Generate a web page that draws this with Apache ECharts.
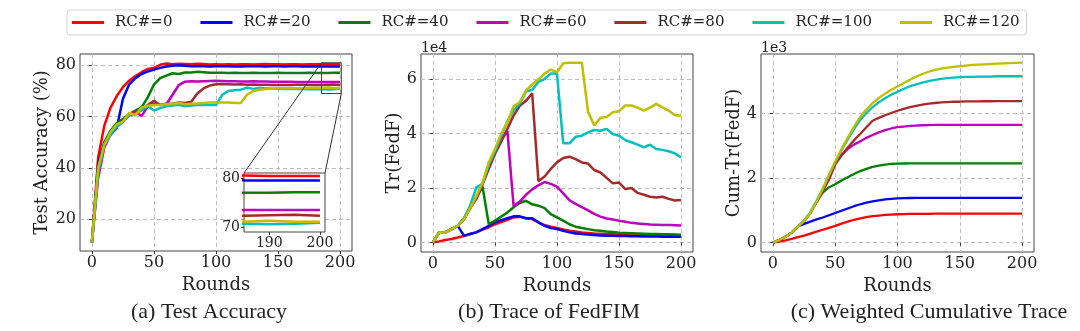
<!DOCTYPE html>
<html>
<head>
<meta charset="utf-8">
<script src="https://cdn.jsdelivr.net/npm/echarts@6/dist/echarts.min.js"></script>
<style>
  html, body { margin: 0; padding: 0; background: #fff; }
  #chart { width: 1080px; height: 331px; }
</style>
</head>
<body>
<div id="chart"></div>
<script>
// Communication rounds (sampled every 5 rounds)
const rounds = [0, 5, 10, 15, 20, 25, 30, 35, 40, 45, 50, 55, 60, 65, 70, 75, 80, 85, 90, 95, 100,
  105, 110, 115, 120, 125, 130, 135, 140, 145, 150, 155, 160, 165, 170, 175, 180, 185, 190, 195, 200];

const seriesNames = ['RC#=0', 'RC#=20', 'RC#=40', 'RC#=60', 'RC#=80', 'RC#=100', 'RC#=120'];
const seriesColors = ['#ff0000', '#0000ff', '#008000', '#bf00bf', '#a52a2a', '#00bfbf', '#bfbf00'];

// (a) Test accuracy, %
const accRC0 = [11, 44, 56.5, 63.5, 68, 71.5, 74, 75.8, 77.3, 78.6, 79, 80.2, 80.7, 80.4, 80.6, 80.5, 80.4, 80.6, 80.5, 80.3,
  80.4, 80.3, 80.4, 80.3, 80.4, 80.4, 80.3, 80.4, 80.5, 80.4, 80.4, 80.3, 80.4, 80.4, 80.3, 80.4, 80.4, 80.5, 80.4, 80.4, 80.4];
const accRC20 = [11, 41.5, 50, 53, 55.5, 67, 72.5, 75, 76.6, 77.6, 78.3, 79, 79.5, 79.8, 80, 79.8, 79.6, 79.7, 79.6, 79.5,
  79.6, 79.6, 79.6, 79.5, 79.5, 79.6, 79.6, 79.6, 79.5, 79.6, 79.6, 79.5, 79.6, 79.6, 79.5, 79.5, 79.6, 79.5, 79.5, 79.5, 79.5];
const accRC40 = [11, 40, 50, 54.5, 57.5, 59, 61, 62.3, 63.6, 67.5, 72.5, 75, 76, 76.9, 76.6, 77.2, 77.2, 77.5, 77.3, 77.1,
  77.1, 77.1, 77.0, 77.1, 77.0, 77.0, 77.1, 77.0, 77.0, 77.0, 77.1, 77.0, 77.0, 77.0, 77.0, 77.1, 77.0, 77.0, 77.0, 77.1, 77.1];
const accRC60 = [11, 36, 48, 53, 56, 58, 60.5, 62, 60.2, 64, 65, 64.5, 64.8, 68.5, 72.3, 73.6, 73.8, 73.7, 73.8, 73.9,
  74, 73.9, 73.8, 73.8, 73.7, 73.7, 73.8, 73.7, 73.7, 73.6, 73.6, 73.6, 73.6, 73.5, 73.5, 73.5, 73.5, 73.5, 73.5, 73.5, 73.5];
const accRC80 = [11, 38, 49, 54, 56.5, 58.5, 61, 61.5, 62.5, 64.5, 66.2, 64.5, 65, 65, 65.5, 65.3, 65.8, 69, 71, 72.1,
  72.6, 72.7, 72.6, 72.5, 72.6, 72.4, 72.5, 72.4, 72.4, 72.3, 72.3, 72.3, 72.3, 72.4, 72.4, 72.3, 72.3, 72.3, 72.4, 72.5, 72.3];
const accRC100 = [11, 38, 49, 53, 56, 58, 60.5, 61, 62.5, 64, 62.4, 63.3, 64, 64.3, 64.6, 64, 64.3, 64.5, 64.5, 64.5,
  64.5, 68.5, 70, 70.3, 70.5, 71.3, 70.8, 71.2, 71, 70.9, 70.9, 70.8, 70.8, 70.8, 70.8, 70.7, 70.7, 70.7, 70.6, 70.7, 70.9];
const accRC120 = [11, 40, 49, 54, 57, 58, 61.5, 60.5, 63.5, 64.2, 64.5, 64.5, 64.8, 65, 65.3, 64.8, 65, 65.1, 65.3, 65.5,
  65.5, 65.5, 65.5, 65.3, 65.3, 68.5, 70, 70.5, 70.8, 70.9, 71, 71, 71, 71, 71.1, 71.1, 71.2, 71.1, 71.3, 71.1, 71.1];

// (b) Trace of FedFIM, in units of 1e4
const trRC0 = [0, 0.04, 0.09, 0.13, 0.18, 0.24, 0.31, 0.38, 0.47, 0.56, 0.67, 0.75, 0.83, 0.92, 0.94, 0.89, 0.86, 0.74, 0.64, 0.58,
  0.53, 0.48, 0.43, 0.4, 0.37, 0.35, 0.33, 0.32, 0.31, 0.3, 0.29, 0.28, 0.27, 0.27, 0.26, 0.25, 0.25, 0.24, 0.23, 0.23, 0.22];
const trRC20 = [0, 0.37, 0.37, 0.49, 0.61, 0.25, 0.31, 0.37, 0.49, 0.61, 0.74, 0.82, 0.89, 0.96, 0.96, 0.89, 0.89, 0.74, 0.61, 0.53,
  0.49, 0.43, 0.37, 0.33, 0.31, 0.29, 0.27, 0.26, 0.25, 0.25, 0.24, 0.24, 0.23, 0.23, 0.22, 0.22, 0.22, 0.21, 0.21, 0.21, 0.21];
const trRC40 = [0, 0.37, 0.37, 0.49, 0.61, 0.86, 1.29, 1.65, 2.05, 0.67, 0.8, 0.95, 1.1, 1.29, 1.45, 1.53, 1.4, 1.35, 1.26, 1.04,
  0.92, 0.8, 0.67, 0.58, 0.53, 0.49, 0.45, 0.43, 0.4, 0.38, 0.36, 0.35, 0.34, 0.33, 0.32, 0.31, 0.31, 0.3, 0.3, 0.29, 0.28];
const trRC60 = [0, 0.37, 0.37, 0.49, 0.61, 0.86, 1.29, 1.65, 2.14, 2.8, 3.3, 3.75, 4.1, 1.34, 1.5, 1.75, 1.95, 2.1, 2.22, 2.15,
  2.05, 1.8, 1.55, 1.42, 1.3, 1.18, 1.05, 0.95, 0.88, 0.84, 0.8, 0.76, 0.72, 0.7, 0.68, 0.66, 0.65, 0.64, 0.64, 0.63, 0.62];
const trRC80 = [0, 0.37, 0.37, 0.49, 0.61, 0.86, 1.25, 1.6, 2.14, 2.7, 3.25, 3.7, 4.17, 4.66, 5.02, 5.2, 5.48, 2.25, 2.42, 2.7,
  2.94, 3.1, 3.15, 3.06, 2.94, 2.9, 2.66, 2.57, 2.37, 2.17, 2.2, 1.96, 2.0, 1.82, 1.75, 1.68, 1.65, 1.68, 1.6, 1.54, 1.56];
const trRC100 = [0, 0.37, 0.37, 0.49, 0.61, 0.9, 1.35, 2.02, 2.15, 2.85, 3.35, 3.9, 4.45, 4.85, 5.1, 5.55, 5.6, 5.9, 6.0, 6.2,
  6.2, 3.64, 3.64, 3.88, 3.92, 4.04, 4.13, 4.1, 4.17, 3.98, 3.92, 3.76, 3.68, 3.59, 3.49, 3.59, 3.43, 3.4, 3.35, 3.27, 3.12];
const trRC120 = [0, 0.37, 0.37, 0.49, 0.61, 0.86, 1.25, 1.7, 2.2, 2.94, 3.43, 4.0, 4.4, 5.0, 5.15, 5.58, 5.8, 5.98, 6.2, 6.35,
  6.25, 6.58, 6.6, 6.6, 6.6, 4.8, 4.3, 4.58, 4.61, 4.78, 4.82, 5.03, 5.03, 4.95, 4.84, 4.95, 5.09, 4.96, 4.84, 4.68, 4.65];

// (c) Weighted cumulative trace, in units of 1e3
const cumRC0 = [0, 0.03, 0.07, 0.12, 0.17, 0.22, 0.28, 0.34, 0.4, 0.46, 0.52, 0.59, 0.65, 0.71, 0.75, 0.79, 0.82, 0.84, 0.86, 0.87,
  0.88, 0.885, 0.89, 0.89, 0.895, 0.895, 0.9, 0.9, 0.9, 0.9, 0.9, 0.9, 0.9, 0.9, 0.9, 0.9, 0.9, 0.9, 0.9, 0.9, 0.9];
const cumRC20 = [0, 0.08, 0.18, 0.31, 0.5, 0.58, 0.65, 0.72, 0.78, 0.85, 0.92, 0.99, 1.06, 1.13, 1.19, 1.24, 1.28, 1.31, 1.34, 1.36,
  1.37, 1.38, 1.385, 1.39, 1.39, 1.39, 1.39, 1.39, 1.39, 1.39, 1.39, 1.39, 1.39, 1.39, 1.39, 1.39, 1.39, 1.39, 1.39, 1.39, 1.39];
const cumRC40 = [0, 0.08, 0.18, 0.31, 0.5, 0.67, 0.92, 1.26, 1.55, 1.72, 1.81, 1.93, 2.03, 2.13, 2.22, 2.29, 2.35, 2.39, 2.42, 2.44,
  2.45, 2.455, 2.46, 2.46, 2.46, 2.46, 2.46, 2.46, 2.46, 2.46, 2.46, 2.46, 2.46, 2.46, 2.46, 2.46, 2.46, 2.46, 2.46, 2.46, 2.46];
const cumRC60 = [0, 0.08, 0.18, 0.31, 0.5, 0.67, 0.92, 1.26, 1.62, 2.02, 2.47, 2.72, 2.9, 3.04, 3.14, 3.25, 3.34, 3.42, 3.49, 3.54,
  3.58, 3.6, 3.62, 3.63, 3.64, 3.645, 3.65, 3.65, 3.65, 3.65, 3.65, 3.65, 3.65, 3.65, 3.65, 3.65, 3.65, 3.65, 3.65, 3.65, 3.65];
const cumRC80 = [0, 0.08, 0.18, 0.31, 0.5, 0.67, 0.92, 1.26, 1.6, 1.95, 2.43, 2.7, 2.95, 3.17, 3.37, 3.58, 3.78, 3.87, 3.95, 4.02,
  4.09, 4.15, 4.2, 4.24, 4.28, 4.31, 4.33, 4.35, 4.36, 4.37, 4.37, 4.38, 4.38, 4.38, 4.385, 4.385, 4.39, 4.39, 4.39, 4.39, 4.39];
const cumRC100 = [0, 0.08, 0.18, 0.31, 0.5, 0.68, 0.94, 1.3, 1.68, 2.1, 2.5, 2.86, 3.2, 3.52, 3.8, 4.02, 4.2, 4.35, 4.48, 4.59,
  4.68, 4.77, 4.85, 4.91, 4.96, 5.01, 5.05, 5.08, 5.1, 5.12, 5.13, 5.14, 5.14, 5.15, 5.15, 5.15, 5.16, 5.16, 5.16, 5.16, 5.16];
const cumRC120 = [0, 0.08, 0.18, 0.31, 0.5, 0.67, 0.92, 1.27, 1.67, 2.1, 2.52, 2.9, 3.25, 3.59, 3.9, 4.13, 4.33, 4.49, 4.62, 4.74,
  4.84, 4.95, 5.05, 5.15, 5.23, 5.3, 5.36, 5.4, 5.43, 5.45, 5.47, 5.49, 5.51, 5.52, 5.53, 5.54, 5.55, 5.56, 5.57, 5.575, 5.58];

// Tick labels
const roundTicks = [0, 50, 100, 150, 200];
const accTicks = [20, 40, 60, 80];
const trTicks = [0, 2, 4, 6];
const cumTicks = [0, 2, 4];
const insetRoundTicks = [190, 200];
const insetAccTicks = [70, 80];
// Zoomed window shown in the inset of panel (a)
const insetRounds = [185, 201];
const insetAcc = [69, 81];

const accuracy = [accRC0, accRC20, accRC40, accRC60, accRC80, accRC100, accRC120];
const traces = [trRC0, trRC20, trRC40, trRC60, trRC80, trRC100, trRC120];
const cumTraces = [cumRC0, cumRC20, cumRC40, cumRC60, cumRC80, cumRC100, cumRC120];

const SERIF = "'DejaVu Serif', serif";
const INK = '#222';

function xAxisFor(gridIndex, min, max, ticks, withName, fontSize) {
  return {
    type: 'value', gridIndex, min, max,
    name: withName ? 'Rounds' : '', nameLocation: 'middle', nameGap: 22,
    nameTextStyle: { fontFamily: SERIF, fontSize: 18, color: INK },
    axisLine: { show: false },
    axisTick: { show: true, inside: false, length: 3, customValues: ticks, lineStyle: { color: '#333' } },
    axisLabel: { customValues: ticks, margin: 4, fontFamily: SERIF, fontSize: fontSize, color: INK },
    splitLine: withName ? { show: true, lineStyle: { color: '#bdbdbd', type: [4, 3], width: 1 } } : { show: false }
  };
}
function yAxisFor(gridIndex, min, max, ticks, name, nameGap, fontSize) {
  return {
    type: 'value', gridIndex, min, max,
    name, nameLocation: 'middle', nameGap,
    nameTextStyle: { fontFamily: SERIF, fontSize: 18, color: INK },
    axisLine: { show: false },
    axisTick: { show: true, inside: false, length: 3, customValues: ticks, lineStyle: { color: '#333' } },
    axisLabel: { customValues: ticks, margin: 4, fontFamily: SERIF, fontSize: fontSize, color: INK },
    splitLine: name ? { show: true, lineStyle: { color: '#bdbdbd', type: [4, 3], width: 1 } } : { show: false }
  };
}

const frame = { show: true, borderColor: '#444', borderWidth: 1, backgroundColor: 'transparent' };

const series = [];
function addPanel(values, axisIndex, width, z) {
  values.forEach((arr, i) => {
    series.push({
      type: 'line', name: seriesNames[i], xAxisIndex: axisIndex, yAxisIndex: axisIndex,
      data: rounds.map((r, k) => [r, arr[k]]),
      showSymbol: false, symbol: 'none', clip: true, z: z,
      color: seriesColors[i],
      lineStyle: { width: width, color: seriesColors[i] },
      emphasis: { disabled: true }
    });
  });
}
addPanel(accuracy, 0, 2.5, 2);
addPanel(traces, 1, 2.5, 2);
addPanel(cumTraces, 2, 2.3, 2);
addPanel(accuracy, 3, 2.5, 5);

const chart = echarts.init(document.getElementById('chart'), null, { renderer: 'canvas' });

chart.setOption({
  animation: false,
  backgroundColor: '#fff',
  legend: {
    data: seriesNames, left: 67, top: 10,
    icon: 'rect', itemWidth: 32, itemHeight: 3, itemGap: 28,
    padding: [5, 7, 5, 5],
    borderColor: '#d4d4d4', borderWidth: 1, borderRadius: 3,
    textStyle: { fontFamily: SERIF, fontSize: 15, color: INK, padding: [0, 0, 0, 6] }
  },
  grid: [
    Object.assign({ left: 80, top: 54, width: 272, height: 197 }, frame),
    Object.assign({ left: 421, top: 54, width: 272, height: 198 }, frame),
    Object.assign({ left: 761, top: 54, width: 273, height: 198 }, frame),
    { show: true, left: 244, top: 173, width: 81, height: 59, borderColor: '#444', borderWidth: 1, backgroundColor: '#fff', z: 1 }
  ],
  xAxis: [
    xAxisFor(0, -9.6, 209.6, roundTicks, true, 16),
    xAxisFor(1, -9.6, 209.6, roundTicks, true, 16),
    xAxisFor(2, -9.6, 209.6, roundTicks, true, 16),
    Object.assign(xAxisFor(3, insetRounds[0], insetRounds[1], insetRoundTicks, false, 14), { z: 1 })
  ],
  yAxis: [
    yAxisFor(0, 7.6, 84.4, accTicks, 'Test Accuracy (%)', 28, 16),
    yAxisFor(1, -0.35, 6.92, trTicks, 'Tr(FedF)', 17, 16),
    yAxisFor(2, -0.29, 5.85, cumTicks, 'Cum-Tr(FedF)', 17, 16),
    Object.assign(yAxisFor(3, insetAcc[0], insetAcc[1], insetAccTicks, '', 0, 14), { z: 1 })
  ],
  series
});

// Zoom box in panel (a), its connectors to the inset, scale notes and captions
const toPx = (idx, pt) => chart.convertToPixel({ xAxisIndex: idx, yAxisIndex: idx }, pt);
const boxTL = toPx(0, [insetRounds[0], insetAcc[1]]);
const boxBR = toPx(0, [insetRounds[1], insetAcc[0]]);
const insetTL = toPx(3, [insetRounds[0], insetAcc[1]]);
const insetTR = toPx(3, [insetRounds[1], insetAcc[1]]);
const lineStyle = { stroke: '#333', lineWidth: 1 };
const captionFont = "22px 'Liberation Serif'";

chart.setOption({
  graphic: [
    { type: 'rect', z: 6, shape: { x: boxTL[0], y: boxTL[1], width: boxBR[0] - boxTL[0], height: boxBR[1] - boxTL[1] },
      style: { fill: 'none', stroke: '#444', lineWidth: 1 } },
    { type: 'line', z: 6, shape: { x1: boxTL[0], y1: boxTL[1], x2: insetTL[0], y2: insetTL[1] }, style: lineStyle },
    { type: 'line', z: 6, shape: { x1: boxBR[0], y1: boxBR[1], x2: insetTR[0], y2: insetTR[1] }, style: lineStyle },
    { type: 'text', left: 421, top: 41, style: { text: '1e4', font: "14px 'DejaVu Serif'", fill: INK } },
    { type: 'text', left: 761, top: 41, style: { text: '1e3', font: "14px 'DejaVu Serif'", fill: INK } },
    { type: 'text', x: 209, y: 312, style: { text: '(a) Test Accuracy', font: captionFont, fill: INK, textAlign: 'center', textVerticalAlign: 'middle' } },
    { type: 'text', x: 549, y: 312, style: { text: '(b) Trace of FedFIM', font: captionFont, fill: INK, textAlign: 'center', textVerticalAlign: 'middle' } },
    { type: 'text', x: 929, y: 312, style: { text: '(c) Weighted Cumulative Trace', font: captionFont, fill: INK, textAlign: 'center', textVerticalAlign: 'middle' } }
  ]
});
</script>
</body>
</html>
